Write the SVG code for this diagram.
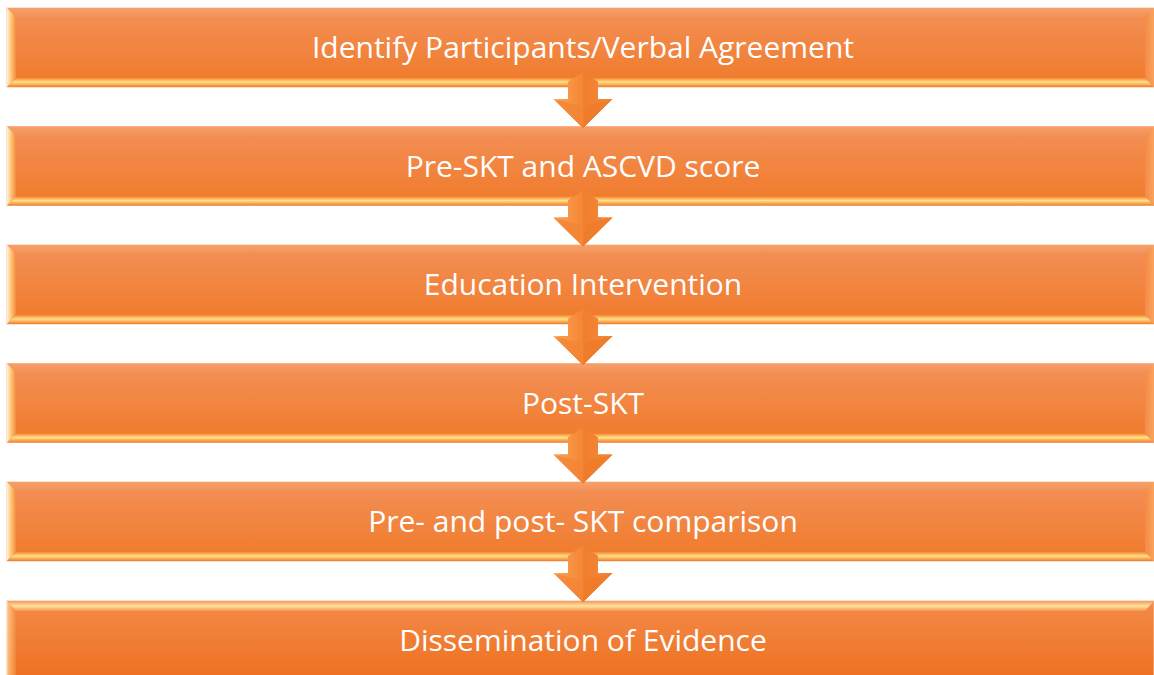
<svg xmlns="http://www.w3.org/2000/svg" width="1154" height="675" viewBox="0 0 1154 675">
  <defs>
    <linearGradient id="face" x1="0" y1="0" x2="0" y2="1">
      <stop offset="0" stop-color="#F39058"/>
      <stop offset="1" stop-color="#F07A29"/>
    </linearGradient>
    <linearGradient id="bottomBevel" x1="0" y1="0" x2="0" y2="1">
      <stop offset="0" stop-color="#F5892F"/>
      <stop offset="0.45" stop-color="#FFE08A"/>
      <stop offset="0.7" stop-color="#FBB35E"/>
      <stop offset="1" stop-color="#F07A2A"/>
    </linearGradient>
    <linearGradient id="topBevel" x1="0" y1="0" x2="0" y2="1">
      <stop offset="0" stop-color="#F6A06A"/>
      <stop offset="1" stop-color="#F39158"/>
    </linearGradient>
    <linearGradient id="leftBevel" x1="0" y1="0" x2="1" y2="0">
      <stop offset="0" stop-color="#FFF3D6"/>
      <stop offset="0.35" stop-color="#FFD08A"/>
      <stop offset="1" stop-color="#F68A3C"/>
    </linearGradient>
    <linearGradient id="rightBevel" x1="0" y1="0" x2="1" y2="0">
      <stop offset="0" stop-color="#F48A45"/>
      <stop offset="1" stop-color="#F9A45E"/>
    </linearGradient>
    <linearGradient id="lastTop" x1="0" y1="0" x2="0" y2="1">
      <stop offset="0" stop-color="#F39A60"/>
      <stop offset="0.5" stop-color="#FFE29A"/>
      <stop offset="1" stop-color="#F59655"/>
    </linearGradient>
    <linearGradient id="lastFace" x1="0" y1="0" x2="0" y2="1">
      <stop offset="0" stop-color="#F38A48"/>
      <stop offset="1" stop-color="#EE7020"/>
    </linearGradient>
    <linearGradient id="arrowL" x1="0" y1="0" x2="1" y2="0">
      <stop offset="0" stop-color="#FFE3B0"/>
      <stop offset="0.2" stop-color="#F9A050"/>
      <stop offset="1" stop-color="#F58535"/>
    </linearGradient>
    <linearGradient id="arrowR" x1="0" y1="0" x2="1" y2="0">
      <stop offset="0" stop-color="#F07E2E"/>
      <stop offset="1" stop-color="#F38A3C"/>
    </linearGradient>

    <!-- bevelled step box, 1147 x 79 -->
    <g id="step">
      <rect x="0" y="0" width="1147" height="79" fill="url(#face)" stroke="#FAC3A0" stroke-width="1"/>
      <polygon points="0,0 1147,0 1138,9 9,9" fill="url(#topBevel)"/>
      <polygon points="0,0 9,9 9,70 0,79" fill="url(#leftBevel)"/>
      <polygon points="1147,0 1147,79 1138,70 1138,9" fill="url(#rightBevel)"/>
      <polygon points="0,79 9,70 1138,70 1147,79" fill="url(#bottomBevel)"/>
    </g>

    <!-- bevelled down arrow, origin at the tip -->
    <g id="down">
      <polygon points="0,-56 -15,-46 -15,-29 -29.5,-29 0,0 29.5,-29 15,-29 15,-46" fill="#F58535"/>
      <polygon points="0,-56 -15,-46 -15,-29 -29.5,-29 0,0 0,-29" fill="url(#arrowL)"/>
      <polygon points="0,-56 15,-46 15,-29 29.5,-29 0,0 0,-29" fill="url(#arrowR)"/>
      <polygon points="-29.5,-29 0,0 -3,-22" fill="#F28436" opacity="0.8"/>
      <polygon points="29.5,-29 0,0 3,-22" fill="#EF7A28" opacity="0.8"/>
    </g>
  </defs>

  <style>
    .label { font-family: "Open Sans", "Liberation Sans", sans-serif; font-size: 30px; fill: #FFFFFF; text-anchor: middle; }
  </style>

  <rect width="1154" height="675" fill="#FFFFFF"/>

  <g id="step1">
    <use href="#step" x="7" y="8"/>
    <text class="label" x="583" y="58">Identify Participants/Verbal Agreement</text>
  </g>
  <g id="step2">
    <use href="#step" x="7" y="126.5"/>
    <text class="label" x="583" y="176.5">Pre-SKT and ASCVD score</text>
  </g>
  <g id="step3">
    <use href="#step" x="7" y="245"/>
    <text class="label" x="583" y="295">Education Intervention</text>
  </g>
  <g id="step4">
    <use href="#step" x="7" y="363.5"/>
    <text class="label" x="583" y="413.5">Post-SKT</text>
  </g>
  <g id="step5">
    <use href="#step" x="7" y="482"/>
    <text class="label" x="583" y="532">Pre- and post- SKT comparison</text>
  </g>
  <g id="step6">
    <rect x="7" y="601" width="1147" height="79" fill="url(#lastFace)" stroke="#FAC3A0" stroke-width="1"/>
    <polygon points="7,601 1154,601 1145,611 16,611" fill="url(#lastTop)"/>
    <polygon points="7,601 16,611 16,675 7,675" fill="url(#leftBevel)" opacity="0.6"/>
    <text class="label" x="583" y="651">Dissemination of Evidence</text>
  </g>

  <g id="connectors">
    <use href="#down" x="583" y="128"/>
    <use href="#down" x="583" y="246.5"/>
    <use href="#down" x="583" y="365"/>
    <use href="#down" x="583" y="483.5"/>
    <use href="#down" x="583" y="602"/>
  </g>
</svg>
